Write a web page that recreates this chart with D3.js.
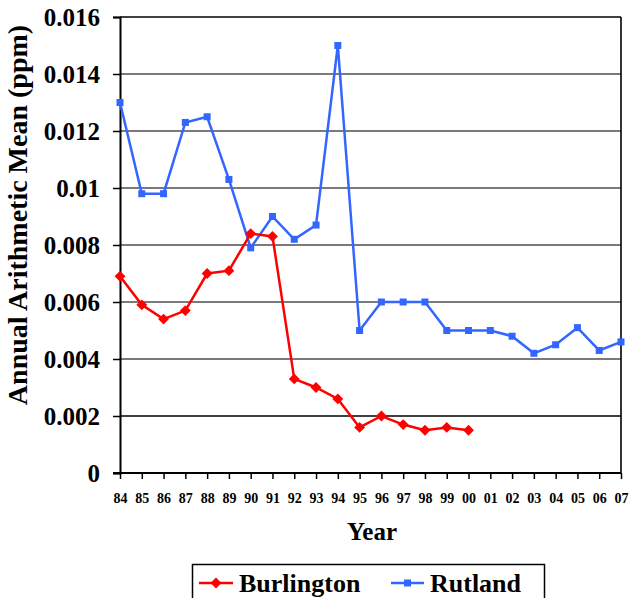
<!DOCTYPE html>
<html>
<head>
<meta charset="utf-8">
<script src="https://cdn.jsdelivr.net/npm/d3@7"></script>
<style>
  html, body { margin: 0; padding: 0; background: #fff; }
  svg { display: block; }
  text { font-family: "Liberation Serif", "Times New Roman", serif; font-weight: bold; fill: #000; }
</style>
</head>
<body>
<script>
// Annual arithmetic mean concentrations (ppm) by year
const years = ["84","85","86","87","88","89","90","91","92","93","94","95",
               "96","97","98","99","00","01","02","03","04","05","06","07"];
const burlington = [0.0069,0.0059,0.0054,0.0057,0.0070,0.0071,0.0084,0.0083,
                    0.0033,0.0030,0.0026,0.0016,0.0020,0.0017,0.0015,0.0016,0.0015];
const rutland = [0.0130,0.0098,0.0098,0.0123,0.0125,0.0103,0.0079,0.0090,
                 0.0082,0.0087,0.0150,0.0050,0.0060,0.0060,0.0060,0.0050,
                 0.0050,0.0050,0.0048,0.0042,0.0045,0.0051,0.0043,0.0046];
const yTicks = [0,0.002,0.004,0.006,0.008,0.01,0.012,0.014,0.016];

const W = 630, H = 598;
const plotL = 120, plotR = 621, plotT = 17, plotB = 473;

const svg = d3.select("body").append("svg").attr("width", W).attr("height", H);

const x = d3.scalePoint().domain(years).range([plotL, plotR]).padding(0);
const y = d3.scaleLinear().domain([0, 0.016]).range([plotB, plotT]);

// horizontal gridlines
svg.append("g").selectAll("line")
  .data(yTicks.filter(d => d > 0))
  .join("line")
  .attr("x1", plotL).attr("x2", plotR)
  .attr("y1", d => y(d)).attr("y2", d => y(d))
  .attr("stroke", d => d === 0.002 ? "#000" : (d === 0.016 ? "#404040" : "#7a7a7a"))
  .attr("stroke-width", d => d === 0.002 ? 1.6 : 2);

// right border
svg.append("line")
  .attr("x1", plotR).attr("x2", plotR).attr("y1", plotT).attr("y2", plotB)
  .attr("stroke", "#000").attr("stroke-width", 1.6);

// y axis
const yAxis = svg.append("g")
  .attr("transform", `translate(${plotL},0)`)
  .call(d3.axisLeft(y).tickValues(yTicks).tickSize(7).tickPadding(13)
        .tickFormat(d => d === 0 ? "0" : String(+d.toFixed(3))));
yAxis.select(".domain").attr("stroke", "#000").attr("stroke-width", 2);
yAxis.selectAll(".tick line").attr("stroke", "#000").attr("stroke-width", 1.5);
yAxis.selectAll("text").attr("font-size", 25).attr("font-family", "Liberation Serif")
  .attr("font-weight", "bold").attr("fill", "#000");

// x axis
const xAxis = svg.append("g")
  .attr("transform", `translate(0,${plotB})`)
  .call(d3.axisBottom(x).tickSize(6).tickPadding(14).tickSizeOuter(0));
xAxis.select(".domain").attr("stroke", "#000").attr("stroke-width", 2)
  .attr("d", `M${plotL - 7},0H${plotR}`);
xAxis.selectAll(".tick line").attr("stroke", "#000").attr("stroke-width", 1.5);
xAxis.selectAll("text").attr("font-size", 14).attr("font-family", "Liberation Serif")
  .attr("font-weight", "bold").attr("fill", "#000");

// axis titles
svg.append("text")
  .attr("x", 372).attr("y", 540)
  .attr("text-anchor", "middle").attr("font-size", 25)
  .text("Year");

svg.append("text")
  .attr("transform", "translate(27,215) rotate(-90)")
  .attr("text-anchor", "middle").attr("font-size", 28)
  .text("Annual Arithmetic Mean (ppm)");

// series
const line = d3.line().x((d, i) => x(years[i])).y(d => y(d));

const rutColor = "#3366ff", burColor = "#ff0000";

svg.append("path").datum(rutland)
  .attr("d", line).attr("fill", "none")
  .attr("stroke", rutColor).attr("stroke-width", 2.5);
svg.append("g").selectAll("rect").data(rutland).join("rect")
  .attr("x", (d, i) => x(years[i]) - 3.5).attr("y", d => y(d) - 3.5)
  .attr("width", 7).attr("height", 7).attr("fill", rutColor);

svg.append("path").datum(burlington)
  .attr("d", line).attr("fill", "none")
  .attr("stroke", burColor).attr("stroke-width", 2.5);
const diamond = d3.symbol().type(d3.symbolDiamond2).size(75);
svg.append("g").selectAll("path").data(burlington).join("path")
  .attr("transform", (d, i) => `translate(${x(years[i])},${y(d)})`)
  .attr("d", diamond).attr("fill", burColor);

// legend
const lg = svg.append("g");
lg.append("rect").attr("x", 192.5).attr("y", 564.5).attr("width", 352).attr("height", 50)
  .attr("fill", "#fff").attr("stroke", "#000").attr("stroke-width", 1.5);

lg.append("line").attr("x1", 199).attr("x2", 233).attr("y1", 583).attr("y2", 583)
  .attr("stroke", burColor).attr("stroke-width", 2.5);
lg.append("path").attr("transform", "translate(216,583)").attr("d", diamond).attr("fill", burColor);
lg.append("text").attr("x", 239).attr("y", 592).attr("font-size", 26).text("Burlington");

lg.append("line").attr("x1", 391).attr("x2", 424).attr("y1", 583).attr("y2", 583)
  .attr("stroke", rutColor).attr("stroke-width", 2.5);
lg.append("rect").attr("x", 404).attr("y", 579.5).attr("width", 7).attr("height", 7).attr("fill", rutColor);
lg.append("text").attr("x", 430).attr("y", 592).attr("font-size", 26).text("Rutland");
</script>
</body>
</html>
